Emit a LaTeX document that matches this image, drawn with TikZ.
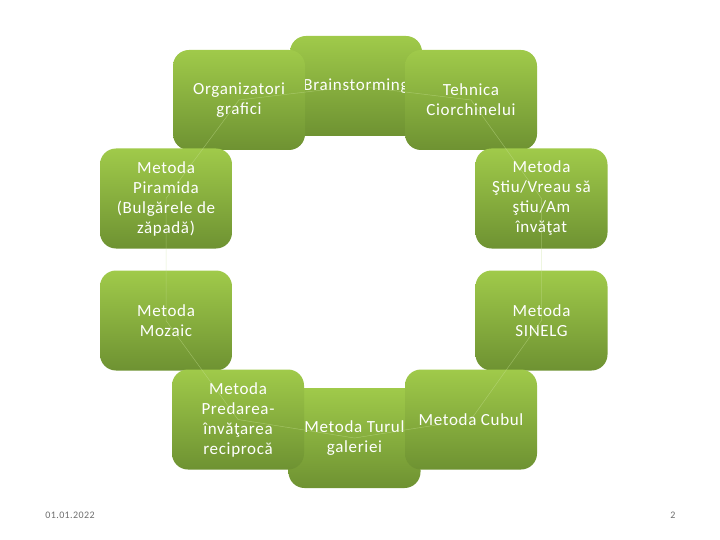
\documentclass[tikz,border=0pt]{standalone}
\usepackage{fontspec}
\setmainfont{Carlito}[LetterSpace=4]
\usepackage{tikz}
\usepackage{xcolor}
\definecolor{BoxTop}{RGB}{160,202,74}
\definecolor{BoxBottom}{RGB}{110,146,50}
\definecolor{BoxLine}{RGB}{200,225,150}
\definecolor{FootGray}{RGB}{110,110,110}

\begin{document}
\begin{tikzpicture}[x=1pt,y=-1pt,
  metoda/.style={rounded corners=16pt,top color=BoxTop,bottom color=BoxBottom,
                 minimum width=132pt,minimum height=100pt,inner sep=2pt,
                 align=center,text=white,font=\fontsize{17}{20}\selectfont},
  legatura/.style={draw=BoxLine,line width=0.5pt,opacity=0.45},
  subsol/.style={text=FootGray,font=\fontsize{10}{11}\selectfont},
]
\fill[white] (0,0) rectangle (720,540);
\useasboundingbox (0,0) rectangle (720,540);
% top row
\node[metoda] (brain) at (356,86) {Brainstorming};
\node[metoda] (organiz) at (239,100) {Organizatori\\grafici};
\node[metoda] (tehnica) at (471,100) {Tehnica\\Ciorchinelui};
% sides
\node[metoda] (piramida) at (166,198.5) {Metoda\\Piramida\\(Bulgărele de\\zăpadă)};
\node[metoda] (stiu) at (541.5,198.5) {Metoda\\Ştiu/Vreau să\\ştiu/Am\\învăţat};
\node[metoda] (mozaic) at (166,320.5) {Metoda\\Mozaic};
\node[metoda] (sinelg) at (541.5,320.5) {Metoda\\SINELG};
% bottom row
\node[metoda] (turul) at (354.5,438) {Metoda Turul\\galeriei};
\node[metoda] (predarea) at (238,419.5) {Metoda\\Predarea-\\învăţarea\\reciprocă};
\node[metoda] (cubul) at (471,419.5) {Metoda Cubul};
% faint cycle
\draw[legatura] (brain.center) -- (tehnica.center) -- (stiu.center) -- (sinelg.center)
  -- (cubul.center) -- (turul.center) -- (predarea.center) -- (mozaic.center)
  -- (piramida.center) -- (organiz.center) -- (brain.center);
% footer
\node[subsol] (data) at (70,515) {01.01.2022};
\node[subsol] (pagina) at (673,515) {2};
\end{tikzpicture}
\end{document}
